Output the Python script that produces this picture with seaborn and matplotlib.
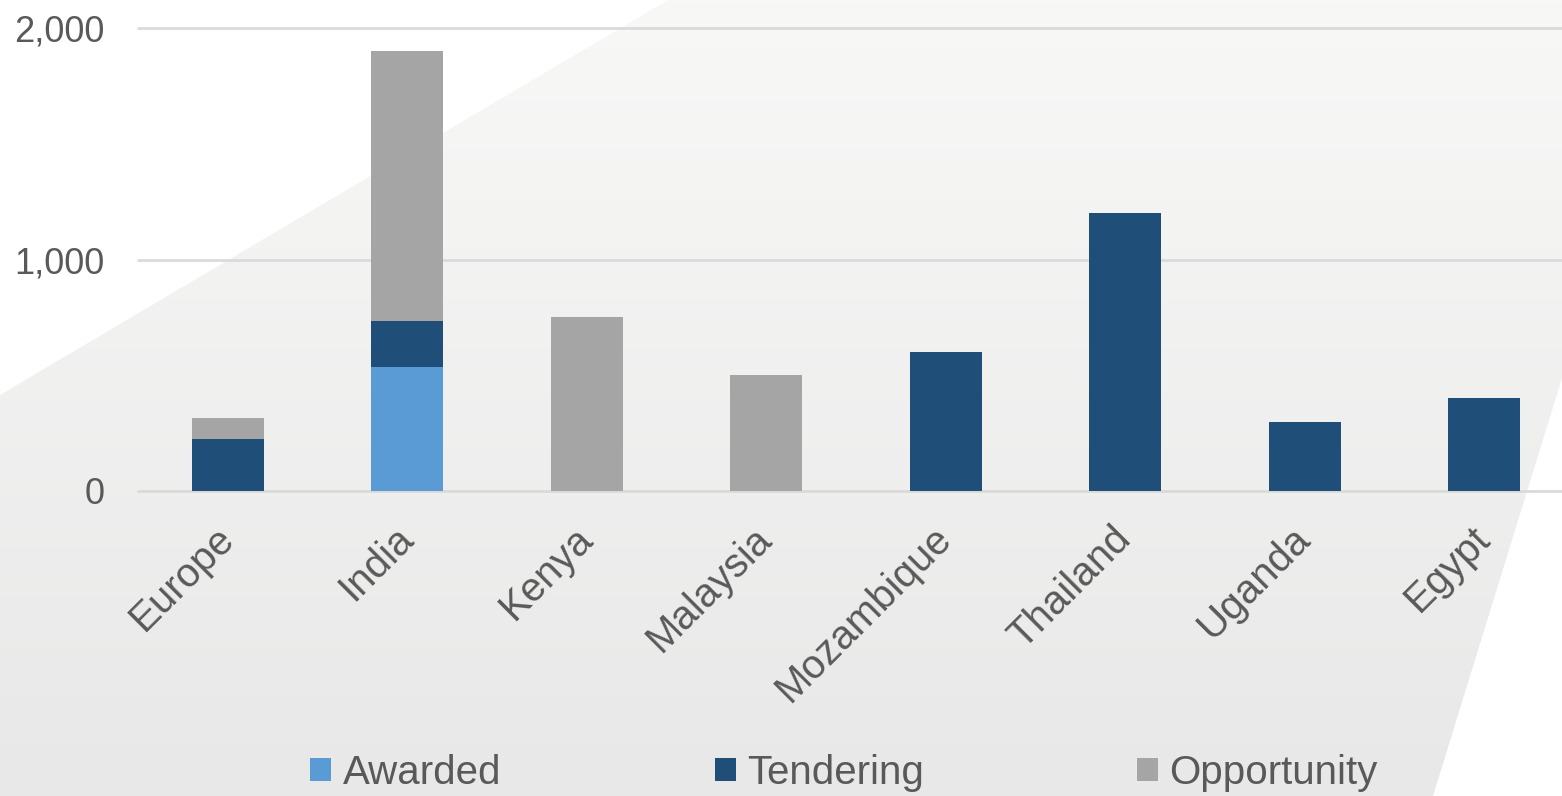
import numpy as np
import pandas as pd
import matplotlib
matplotlib.use("Agg")
import matplotlib.pyplot as plt
import seaborn as sns
from matplotlib.patches import Polygon, Patch
from matplotlib.colors import LinearSegmentedColormap

# === DATA ===
regions = ["Europe", "India", "Kenya", "Malaysia", "Mozambique", "Thailand", "Uganda", "Egypt"]
awarded = [0, 535, 0, 0, 0, 0, 0, 0]
tendering = [225, 200, 0, 0, 600, 1200, 300, 400]
opportunity = [90, 1165, 750, 500, 0, 0, 0, 0]
yticks = [0, 1000, 2000]

colors = {"Awarded": "#5B9BD5", "Tendering": "#1F4E79", "Opportunity": "#A5A5A5"}
text_color = "#595959"

# === CONFIG ===
sns.set_theme(style="white")
plt.rcParams["font.family"] = ["Liberation Sans", "DejaVu Sans"]

W, H = 1562, 796
fig = plt.figure(figsize=(W / 100, H / 100), dpi=100)
fig.patch.set_facecolor("white")

# --- background: grey gradient slab with slanted edges ---
bg = fig.add_axes([0, 0, 1, 1], zorder=0)
bg.set_xlim(0, 1)
bg.set_ylim(0, 1)
bg.axis("off")
verts_px = [(0, 395), (668, 0), (W, 0), (W, 378), (1433, H), (0, H)]
verts = [(x / W, 1 - y / H) for x, y in verts_px]
poly = Polygon(verts, closed=True, facecolor="none", edgecolor="none")
bg.add_patch(poly)
cmap = LinearSegmentedColormap.from_list("bg", ["#e8e8e8", "#f8f8f7"])
grad = np.linspace(0, 1, 256).reshape(-1, 1)
im = bg.imshow(grad, extent=[0, 1, 0, 1], origin="lower", aspect="auto", cmap=cmap)
im.set_clip_path(poly)

# --- main axes ---
left = 138 / W
right = 1574 / W
bottom = 1 - 491 / H
top = 1 - 28 / H
ax = fig.add_axes([left, bottom, right - left, top - bottom], zorder=1)
ax.set_facecolor("none")

df = pd.DataFrame({"Region": regions, "Awarded": awarded,
                   "Tendering": tendering, "Opportunity": opportunity})
df["total"] = df["Awarded"] + df["Tendering"] + df["Opportunity"]
df["aw_ten"] = df["Awarded"] + df["Tendering"]

# stacked bars drawn as overlapping cumulative bars
sns.barplot(data=df, x="Region", y="total", color=colors["Opportunity"], width=0.4,
            saturation=1, linewidth=0, ax=ax, zorder=3)
sns.barplot(data=df, x="Region", y="aw_ten", color=colors["Tendering"], width=0.4,
            saturation=1, linewidth=0, ax=ax, zorder=4)
sns.barplot(data=df, x="Region", y="Awarded", color=colors["Awarded"], width=0.4,
            saturation=1, linewidth=0, ax=ax, zorder=5)

ax.set_xlim(-0.5, len(regions) - 0.5)
ax.set_ylim(0, 2000)
ax.set_yticks(yticks)
ax.set_yticklabels([f"{v:,}" for v in yticks])
ax.grid(False)
for v in yticks:
    ax.axhline(v, color="#d9d9d9", linewidth=1.9, zorder=2, clip_on=False)

for s in ax.spines.values():
    s.set_visible(False)
ax.tick_params(axis="both", length=0, colors=text_color)
ax.tick_params(axis="y", pad=24, labelsize=26)
ax.tick_params(axis="x", pad=30, labelsize=29)
ax.set_xlabel("")
ax.set_ylabel("")
for lbl in ax.get_xticklabels():
    lbl.set_rotation(45)
    lbl.set_ha("right")
    lbl.set_va("center")
    lbl.set_rotation_mode("anchor")

# --- legend ---
handles = [Patch(facecolor=colors[k], edgecolor="none", label=k)
           for k in ["Awarded", "Tendering", "Opportunity"]]
leg = fig.legend(handles=handles, loc="center", bbox_to_anchor=(844 / W, 1 - 773 / H),
                 ncol=3, frameon=False, fontsize=29, handlelength=0.52, handleheight=0.52,
                 handletextpad=0.28, columnspacing=5.3, borderaxespad=0)
for t in leg.get_texts():
    t.set_color(text_color)

fig.savefig("out.png", dpi=100)
